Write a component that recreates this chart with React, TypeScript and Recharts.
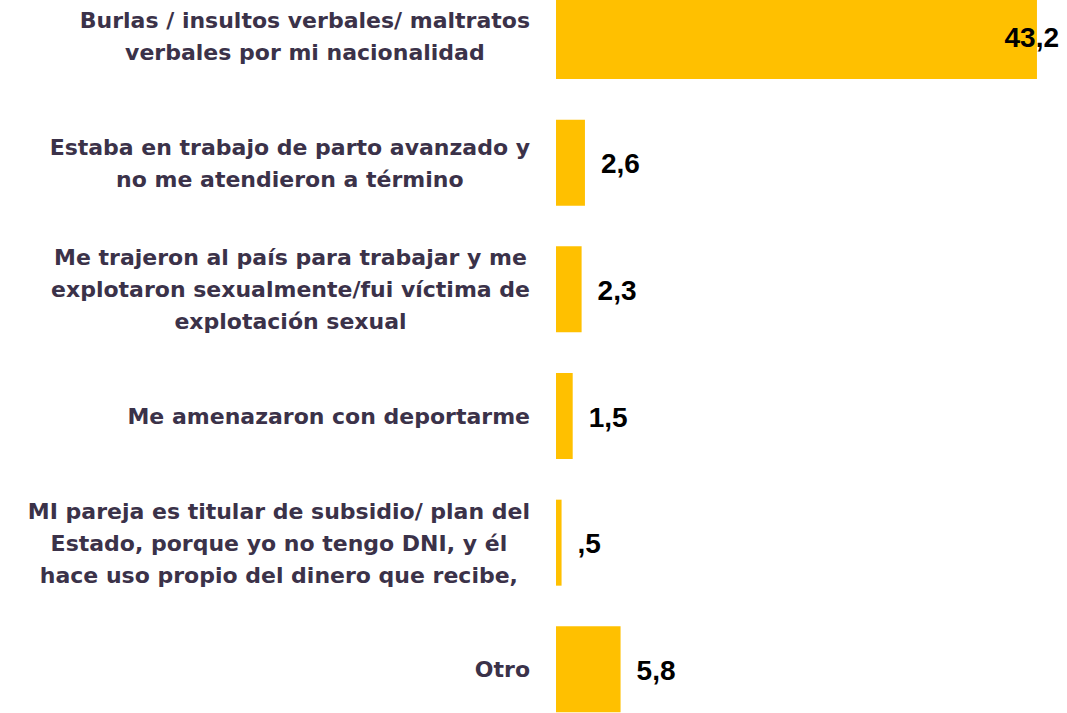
import { BarChart, Bar, XAxis, YAxis, LabelList } from "recharts";

const categories = [
  "Burlas / insultos verbales/ maltratos\nverbales por mi nacionalidad",
  "Estaba en trabajo de parto avanzado y\nno me atendieron a término",
  "Me trajeron al país para trabajar y me\nexplotaron sexualmente/fui víctima de\nexplotación sexual",
  "Me amenazaron con deportarme",
  "MI pareja es titular de subsidio/ plan del\nEstado, porque yo no tengo DNI, y él\nhace uso propio del dinero que recibe,",
  "Otro",
];
const values = [43.2, 2.6, 2.3, 1.5, 0.5, 5.8];

const data = categories.map((name, i) => ({ name, value: values[i] }));

const LABEL_FONT = "bold 22px 'DejaVu Sans'";
const VALUE_FONT = "bold 28px 'Liberation Sans'";

let ctx: CanvasRenderingContext2D | null = null;
const measure = (text: string, font: string) => {
  if (!ctx) ctx = document.createElement("canvas").getContext("2d");
  if (!ctx) return text.length * 12;
  ctx.font = font;
  return ctx.measureText(text).width;
};

const fmt = (v: number) => v.toFixed(1).replace(".", ",").replace(/^0/, "");

const CategoryTick = (props: any) => {
  const { y, payload } = props;
  const lines: string[] = String(payload.value).split("\n");
  const blockW = Math.max(...lines.map((l) => measure(l, LABEL_FONT)));
  const right = 530;
  const cx = right - blockW / 2;
  const lh = 32;
  const top = y - ((lines.length - 1) * lh) / 2;
  return (
    <text textAnchor="middle" fill="#3b3249" style={{ font: LABEL_FONT }}>
      {lines.map((l, i) => (
        <tspan key={i} x={cx} y={top + i * lh} dominantBaseline="central">
          {l}
        </tspan>
      ))}
    </text>
  );
};

const ValueLabel = (props: any) => {
  const { x, y, width, height, value } = props;
  const text = fmt(Number(value));
  const w = measure(text, VALUE_FONT);
  let lx = x + width + 16;
  if (lx + w > 1059) lx = 1059 - w;
  return (
    <text
      x={lx}
      y={y + height / 2 + 1}
      dominantBaseline="central"
      fill="#000"
      style={{ font: VALUE_FONT }}
    >
      {text}
    </text>
  );
};

export default function App() {
  return (
    <div
      style={{
        position: "absolute",
        left: 0,
        top: 0,
        width: 1067,
        height: 713,
        overflow: "hidden",
        background: "#fff",
      }}
    >
      <div style={{ marginTop: -27 }}>
        <BarChart
          layout="vertical"
          width={1067}
          height={760}
          data={data}
          margin={{ top: 0, right: 10, bottom: 0, left: 0 }}
        >
          <XAxis type="number" domain={[0, 45]} hide />
          <YAxis
            type="category"
            dataKey="name"
            width={556}
            axisLine={false}
            tickLine={false}
            tick={<CategoryTick />}
            interval={0}
          />
          <Bar dataKey="value" fill="#FFC000" barSize={86} isAnimationActive={false}>
            <LabelList dataKey="value" content={<ValueLabel />} />
          </Bar>
        </BarChart>
      </div>
    </div>
  );
}
